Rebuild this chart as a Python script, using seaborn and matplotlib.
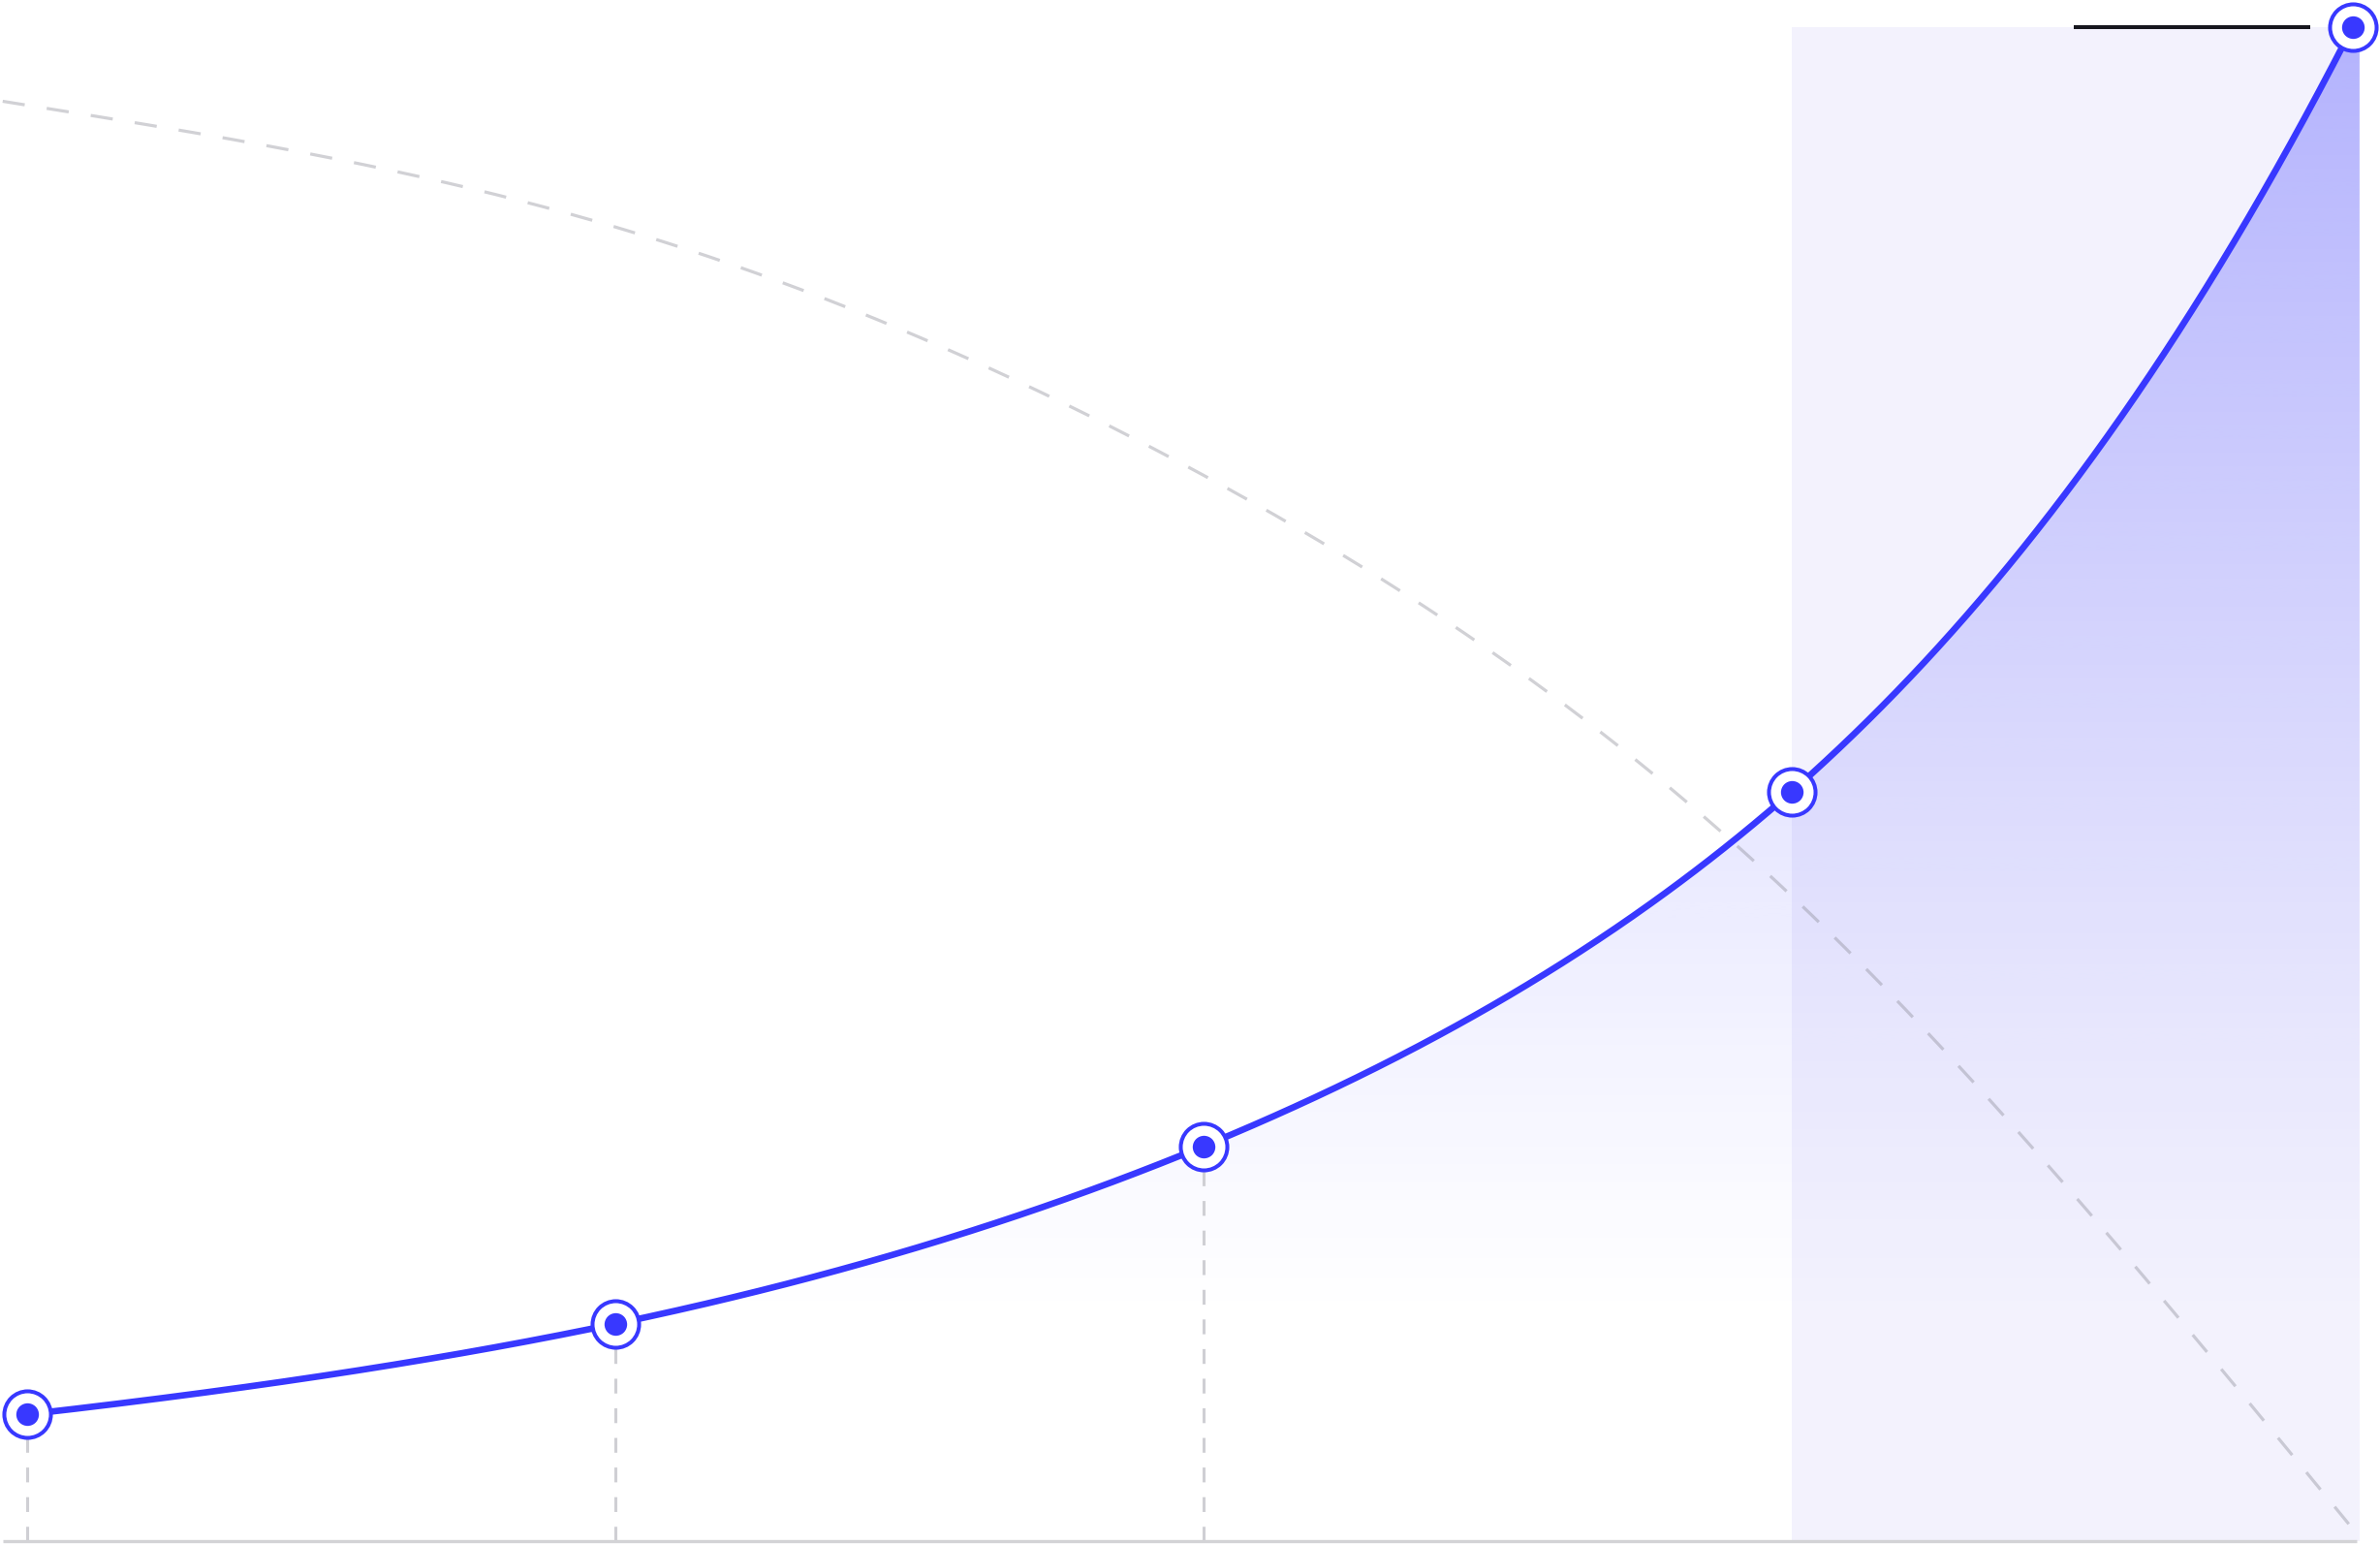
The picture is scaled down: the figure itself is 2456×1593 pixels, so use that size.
import numpy as np
import matplotlib
matplotlib.use("Agg")
import matplotlib.pyplot as plt
import seaborn as sns
import pandas as pd
from matplotlib.patches import Rectangle, Polygon

# ---------------- data ----------------
periods = [0, 1, 2, 3, 3.953]
growth = [8.37, 14.35, 26.08, 49.51, 100.0]

decline_x = [-0.041, 1, 2, 3, 3.96]
decline = [95.1, 86.8, 70.4, 42.6, 0.5]

highlight_start = 3.0
highlight_end = 3.965
guide_x = [0, 1, 2]
top_line_x = [3.479, 3.881]

BLUE = "#3838ff"


def natural_spline(xs, ys, n=200):
    """Natural cubic spline y(x) through the points (rendering only)."""
    xs = np.asarray(xs, float)
    ys = np.asarray(ys, float)
    k = len(xs)
    h = np.diff(xs)
    A = np.zeros((k, k))
    b = np.zeros(k)
    A[0, 0] = A[-1, -1] = 1
    for i in range(1, k - 1):
        A[i, i - 1] = h[i - 1]
        A[i, i] = 2 * (h[i - 1] + h[i])
        A[i, i + 1] = h[i]
        b[i] = 6 * ((ys[i + 1] - ys[i]) / h[i] - (ys[i] - ys[i - 1]) / h[i - 1])
    M = np.linalg.solve(A, b)
    X, Y = [], []
    for i in range(k - 1):
        x = np.linspace(xs[i], xs[i + 1], n, endpoint=(i == k - 2))
        a = xs[i + 1] - x
        c = x - xs[i]
        y = (M[i] * a**3 + M[i + 1] * c**3) / (6 * h[i]) \
            + (ys[i] / h[i] - M[i] * h[i] / 6) * a \
            + (ys[i + 1] / h[i] - M[i + 1] * h[i] / 6) * c
        X.append(x)
        Y.append(y)
    return np.concatenate(X), np.concatenate(Y)


sns.set_theme(style="white")
fig = plt.figure(figsize=(24.56, 15.93), dpi=100)
ax = fig.add_axes([0, 0, 1, 1])
ax.set_xlim(-0.0456, 3.9998)
ax.set_ylim(-0.192, 101.79)
ax.axis("off")

# highlight band
ax.add_patch(Rectangle((highlight_start, 0), highlight_end - highlight_start, 100,
                       facecolor="#f3f2fd", edgecolor="none", zorder=0))

# smooth growth curve (spline in log space -> exponential-like shape)
gx, lg = natural_spline(periods, np.log(growth))
gy = np.exp(lg)

# gradient fill under curve
poly_xy = np.column_stack([np.r_[gx, highlight_end, highlight_end, gx[0]],
                           np.r_[gy, gy[-1] - 1.5, 0, 0]])
clip = Polygon(poly_xy, closed=True, facecolor="none", edgecolor="none")
ax.add_patch(clip)
yy = np.linspace(0, 100, 400)
alpha = np.clip((yy - 14) / 86, 0, 1) ** 1.15 * 0.34
rgba = np.zeros((400, 2, 4))
rgba[..., 0] = 0x38 / 255
rgba[..., 1] = 0x38 / 255
rgba[..., 2] = 1.0
rgba[..., 3] = alpha[:, None]
im = ax.imshow(rgba, extent=[periods[0], highlight_end, 0, 100], origin="lower",
               aspect="auto", zorder=1, interpolation="bilinear")
im.set_clip_path(clip)

# dashed declining curve
dx, dy = natural_spline(decline_x, decline)
ax.plot(dx, dy, color="#8c8c98", alpha=0.4, lw=2.3, dashes=(7.2, 7.2), zorder=2,
        dash_capstyle="butt")

# vertical guides
for gxv, gyv in zip(guide_x, growth[:3]):
    ax.plot([gxv, gxv], [0, gyv], color="#cfcfd4", lw=2.2, dashes=(5, 5), zorder=2)

# baseline
ax.plot([-0.041, 3.96], [0, 0], color="#d3d3d6", lw=2.4, zorder=2, solid_capstyle="butt")

# main line
df = pd.DataFrame({"x": gx, "y": gy})
sns.lineplot(data=df, x="x", y="y", ax=ax, color=BLUE, lw=4.8, zorder=3,
             sort=False, estimator=None)

# markers
pts = pd.DataFrame({"x": periods, "y": growth})
ax.plot(pts.x, pts.y, ls="none", marker="o", ms=34.6, mfc="white", mec=BLUE,
        mew=2.9, zorder=4, clip_on=False)
ax.plot(pts.x, pts.y, ls="none", marker="o", ms=16.8, mfc=BLUE, mec="none",
        zorder=5, clip_on=False)

# top short line
ax.plot(top_line_x, [growth[-1], growth[-1]], color="#16161e", lw=2.9, zorder=5,
        solid_capstyle="butt")

fig.savefig("out.png", dpi=100, facecolor="white")
